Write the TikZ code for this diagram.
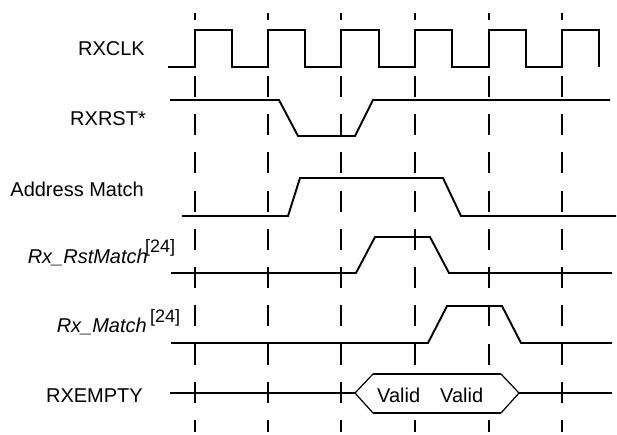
\documentclass[tikz,border=0pt]{standalone}
\usepackage{fontspec}
\setmainfont{Liberation Sans}
\begin{document}
\begin{tikzpicture}[x=1pt,y=-1pt,
  sig/.style={line width=1.9pt, line join=miter},
  hexo/.style={line width=1.2pt},
  gridline/.style={line width=2pt, dash pattern=on 21pt off 17.3pt, dash phase=14pt},
  lbl/.style={font=\fontsize{20}{24}\selectfont, inner sep=0pt},
  sup/.style={font=\fontsize{18}{22}\selectfont, inner sep=0pt}]
\useasboundingbox (0,0) rectangle (617,434);
% grid
\foreach \gx in {195,268,341,415,489,562}
  \draw[gridline] (\gx,13) -- (\gx,432);
% labels
\node[lbl, anchor=base east] (clk) at (145,55) {RXCLK};
\node[lbl, anchor=base east] (rst) at (146,125) {RXRST*};
\node[lbl, anchor=base east] (am) at (144,196.5) {Address Match};
\node[lbl, anchor=base east] (rrm) at (148,263) {\itshape Rx\_RstMatch};
\node[sup, anchor=base west] (rrms) at (145,252) {[24]};
\node[lbl, anchor=base east] (rm) at (147,332) {\itshape Rx\_Match};
\node[sup, anchor=base west] (rms) at (150,322) {[24]};
\node[lbl, anchor=base east] (re) at (143,402) {RXEMPTY};
% RXCLK
\draw[sig] (168,67) -- (195,67) -- (195,30) -- (232,30) -- (232,67) -- (268,67) -- (268,30) -- (305,30) -- (305,67)
  -- (341,67) -- (341,30) -- (379,30) -- (379,67) -- (415,67) -- (415,30) -- (452,30) -- (452,67)
  -- (489,67) -- (489,30) -- (526,30) -- (526,67) -- (562,67) -- (562,30) -- (599,30) -- (599,67);
% RXRST*
\draw[sig] (170,100) -- (279,100) -- (298,136) -- (355,136) -- (373,100) -- (610,100);
% Address Match
\draw[sig] (182,216) -- (288,216) -- (300,178) -- (443,178) -- (461,216) -- (616,216);
% Rx_RstMatch
\draw[sig] (171,273) -- (356,273) -- (375,237) -- (430,237) -- (449,273) -- (612,273);
% Rx_Match
\draw[sig] (171,343) -- (428,343) -- (447,306) -- (502,306) -- (521,343) -- (612,343);
% RXEMPTY
\fill[white] (355,393) -- (373,374) -- (501,374) -- (519,393) -- (501,413) -- (373,413) -- cycle;
\draw[sig] (170,393) -- (355,393);
\draw[sig] (519,393) -- (612,393);
\draw[hexo] (355,393) -- (373,374);
\draw[hexo] (355,393) -- (373,413);
\draw[hexo] (501,374) -- (519,393) -- (501,413);
\draw[sig] (373,374) -- (501,374);
\draw[sig] (373,413) -- (501,413);
\node[lbl, anchor=base west] (v1) at (377,402) {Valid};
\node[lbl, anchor=base west] (v2) at (440,402) {Valid};
\end{tikzpicture}
\end{document}
